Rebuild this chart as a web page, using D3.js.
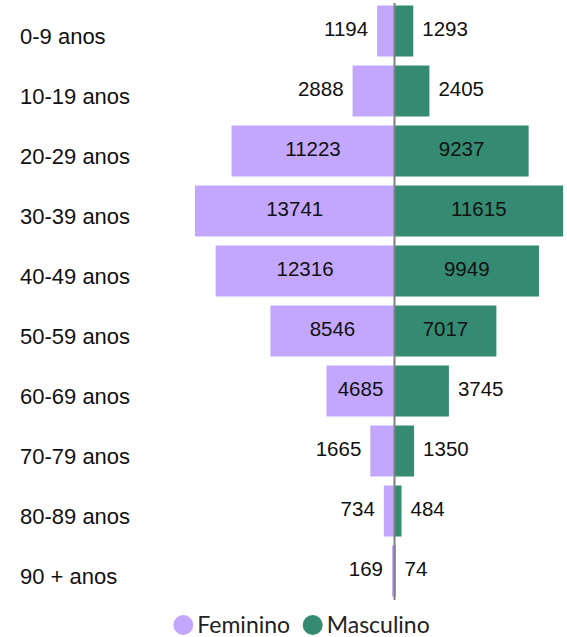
<!DOCTYPE html>
<html><head><meta charset="utf-8">
<script src="https://cdn.jsdelivr.net/npm/d3@7/dist/d3.min.js"></script>
<style>body{margin:0;background:#fff}svg{display:block}</style>
</head><body><svg id="c" width="567" height="637"></svg>
<script>
const categories = ["0-9 anos","10-19 anos","20-29 anos","30-39 anos","40-49 anos","50-59 anos","60-69 anos","70-79 anos","80-89 anos","90 + anos"];
const feminino = [1194,2888,11223,13741,12316,8546,4685,1665,734,169];
const masculino = [1293,2405,9237,11615,9949,7017,3745,1350,484,74];
const seriesNames = ["Feminino","Masculino"];
const colors = ["#c3a7fd","#348b72"];

const svg = d3.select("#c");
const cx = 394.5;
const k = 0.01452;
const maxV = d3.max(feminino.concat(masculino));
const xF = d3.scaleLinear().domain([0, maxV]).range([cx, cx - maxV * k]);
const xM = d3.scaleLinear().domain([0, maxV]).range([cx, cx + maxV * k]);
const y = d3.scaleBand().domain(categories).range([1, 601]).paddingInner(0.15).paddingOuter(0.075);

const font = "'Liberation Sans', Arial, sans-serif";

// category labels
svg.append("g").selectAll("text").data(categories).join("text")
  .attr("x", 20).attr("y", d => y(d) + y.bandwidth()/2 + 5)
  .attr("dy", "0.35em").attr("font-family", font).attr("font-size", 22).attr("fill", "#111")
  .text(d => d);

// bars
svg.append("g").selectAll("rect").data(categories).join("rect")
  .attr("x", (d,i) => xF(feminino[i])).attr("y", d => y(d))
  .attr("width", (d,i) => cx - xF(feminino[i])).attr("height", y.bandwidth())
  .attr("fill", colors[0]);
svg.append("g").selectAll("rect").data(categories).join("rect")
  .attr("x", cx).attr("y", d => y(d))
  .attr("width", (d,i) => xM(masculino[i]) - cx).attr("height", y.bandwidth())
  .attr("fill", colors[1]);

// value labels
const thr = 60;
svg.append("g").selectAll("text").data(categories).join("text")
  .attr("x", (d,i) => { const w = cx - xF(feminino[i]); return w > thr ? cx - w/2 : xF(feminino[i]) - 9; })
  .attr("text-anchor", (d,i) => (cx - xF(feminino[i])) > thr ? "middle" : "end")
  .attr("y", d => y(d) + y.bandwidth()/2 - 2.5).attr("dy", "0.35em")
  .attr("font-family", font).attr("font-size", 20.5).attr("fill", "#111")
  .text((d,i) => feminino[i]);
svg.append("g").selectAll("text").data(categories).join("text")
  .attr("x", (d,i) => { const w = xM(masculino[i]) - cx; return w > thr ? cx + w/2 : xM(masculino[i]) + 9; })
  .attr("text-anchor", (d,i) => (xM(masculino[i]) - cx) > thr ? "middle" : "start")
  .attr("y", d => y(d) + y.bandwidth()/2 - 2.5).attr("dy", "0.35em")
  .attr("font-family", font).attr("font-size", 20.5).attr("fill", "#111")
  .text((d,i) => masculino[i]);

// center line
svg.append("line").attr("x1", cx).attr("x2", cx).attr("y1", 3).attr("y2", 600)
  .attr("stroke", "#808080").attr("stroke-width", 2);

// legend
const leg = svg.append("g");
const legX = [183.3, 312.7];
seriesNames.forEach((n, i) => {
  leg.append("circle").attr("cx", legX[i]).attr("cy", 625).attr("r", 10).attr("fill", colors[i]);
  leg.append("text").attr("x", legX[i] + 14).attr("y", 633)
    .attr("font-family", "Lato, 'Open Sans', sans-serif").attr("font-size", 23).attr("fill", "#222").text(n);
});
</script></body></html>
